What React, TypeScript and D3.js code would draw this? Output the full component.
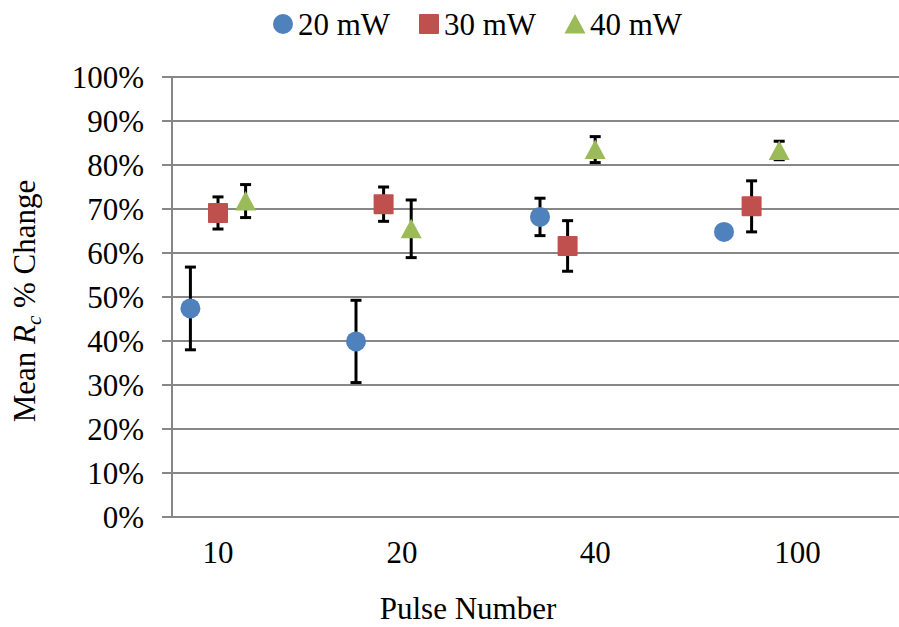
import React from "react";
import * as d3 from "d3";

const categoryLabels = ["10", "20", "40", "100"];
const categoryLabelX = [0.25, 1.25, 2.3, 3.4];

const seriesNames = ["20 mW", "30 mW", "40 mW"];
const seriesColors = ["#4F81BD", "#C0504D", "#9BBB59"];
const seriesShapes = ["circle", "square", "triangle"];

const x20 = [0.1, 1.0, 2.0, 3.0];
const y20 = [47.4, 39.9, 68.2, 64.8];
const e20 = [9.4, 9.35, 4.25, 0];

const x30 = [0.25, 1.15, 2.15, 3.15];
const y30 = [69.1, 71.1, 61.6, 70.6];
const e30 = [3.65, 3.9, 5.75, 5.8];

const x40 = [0.4, 1.3, 2.3, 3.3];
const y40 = [71.8, 65.5, 83.5, 83.3];
const e40 = [3.75, 6.55, 2.95, 2.1];

const yTicks = [0, 10, 20, 30, 40, 50, 60, 70, 80, 90, 100];

const W = 899;
const H = 627;
const FONT = "'Liberation Serif', 'Times New Roman', serif";

function Marker({ shape, cx, cy, color }: { shape: string; cx: number; cy: number; color: string }) {
  if (shape === "circle") return <circle cx={cx} cy={cy} r={10} fill={color} />;
  if (shape === "square")
    return <rect x={cx - 10} y={cy - 10} width={20} height={20} fill={color} rx={1} />;
  const p = d3.path();
  p.moveTo(cx, cy - 10);
  p.lineTo(cx + 10.5, cy + 9.5);
  p.lineTo(cx - 10.5, cy + 9.5);
  p.closePath();
  return <path d={p.toString()} fill={color} />;
}

export default function App() {
  const xScale = d3.scaleLinear().domain([0, 4]).range([172, 908]);
  const yScale = d3.scaleLinear().domain([0, 100]).range([517, 77]);

  const series = [
    { xs: x20, ys: y20, es: e20 },
    { xs: x30, ys: y30, es: e30 },
    { xs: x40, ys: y40, es: e40 },
  ];

  const legendX = [283, 429, 575];

  return (
    <div style={{ position: "fixed", left: 0, top: 0 }}>
      <svg width={W} height={H} style={{ display: "block", background: "#fff" }}>
        <rect width={W} height={H} fill="#fff" />
        {yTicks.map((t) => (
          <line
            key={"g" + t}
            x1={162}
            x2={W}
            y1={yScale(t)}
            y2={yScale(t)}
            stroke="#878787"
            strokeWidth={2}
          />
        ))}
        <line x1={172} x2={172} y1={yScale(100)} y2={yScale(0)} stroke="#878787" strokeWidth={2} />
        {yTicks.map((t) => (
          <text
            key={"yl" + t}
            x={144}
            y={yScale(t) + 11}
            textAnchor="end"
            fontFamily={FONT}
            fontSize={31}
            fill="#000"
          >
            {t + "%"}
          </text>
        ))}
        {categoryLabels.map((c, i) => (
          <text
            key={"xl" + c}
            x={xScale(categoryLabelX[i])}
            y={563}
            textAnchor="middle"
            fontFamily={FONT}
            fontSize={31}
            fill="#000"
          >
            {c}
          </text>
        ))}
        <text x={468} y={619} textAnchor="middle" fontFamily={FONT} fontSize={31} fill="#000">
          Pulse Number
        </text>
        <text
          transform="translate(35,301) rotate(-90)"
          textAnchor="middle"
          fontFamily={FONT}
          fontSize={31}
          fill="#000"
        >
          <tspan>Mean </tspan>
          <tspan fontStyle="italic">R</tspan>
          <tspan fontStyle="italic" fontSize={21} dy={6}>c</tspan>
          <tspan dy={-6}> % Change</tspan>
        </text>
        {series.map((s, si) =>
          s.xs.map((xv, i) => {
            const e = s.es[i];
            if (!e) return null;
            const cx = xScale(xv);
            const yt = yScale(s.ys[i] + e);
            const yb = yScale(s.ys[i] - e);
            return (
              <g key={"e" + si + "-" + i} stroke="#000" strokeWidth={3}>
                <line x1={cx} x2={cx} y1={yt} y2={yb} />
                <line x1={cx - 5.5} x2={cx + 5.5} y1={yt} y2={yt} />
                <line x1={cx - 5.5} x2={cx + 5.5} y1={yb} y2={yb} />
              </g>
            );
          })
        )}
        {series.map((s, si) =>
          s.xs.map((xv, i) => (
            <Marker
              key={"m" + si + "-" + i}
              shape={seriesShapes[si]}
              cx={xScale(xv)}
              cy={yScale(s.ys[i])}
              color={seriesColors[si]}
            />
          ))
        )}
        {seriesNames.map((n, i) => (
          <g key={"lg" + i}>
            <Marker shape={seriesShapes[i]} cx={legendX[i]} cy={24} color={seriesColors[i]} />
            <text x={legendX[i] + 15} y={35} fontFamily={FONT} fontSize={31} fill="#000">
              {n}
            </text>
          </g>
        ))}
      </svg>
    </div>
  );
}
